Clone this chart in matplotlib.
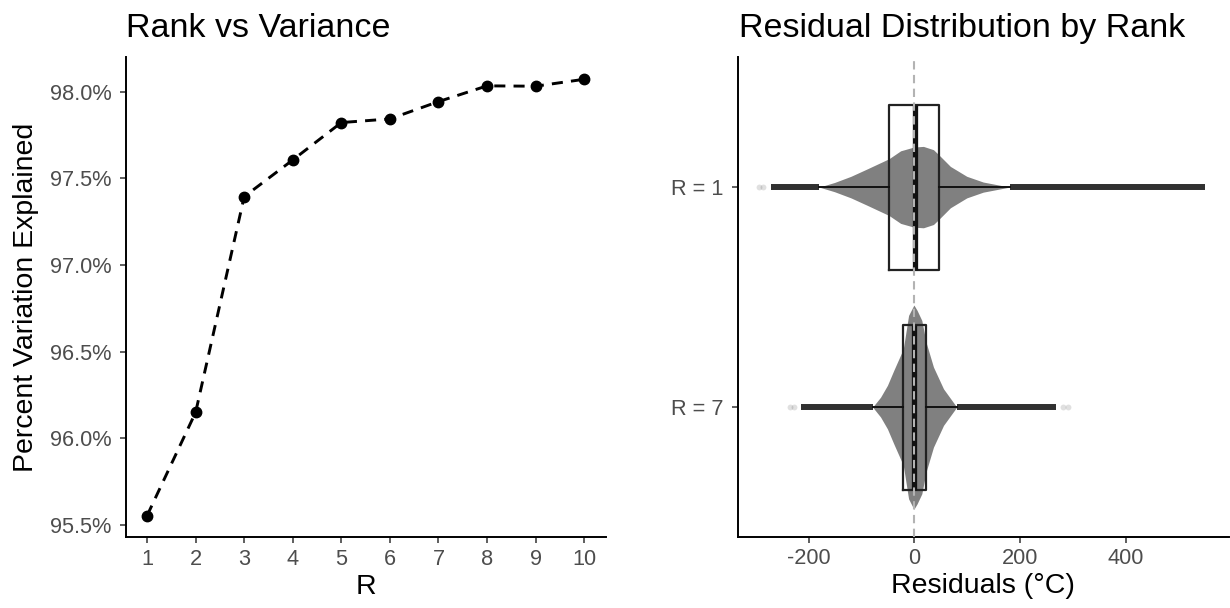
import matplotlib
matplotlib.use('Agg')
import matplotlib.pyplot as plt
from matplotlib.ticker import FuncFormatter

plt.rcParams['font.family'] = ['Liberation Sans', 'DejaVu Sans']
plt.rcParams['axes.unicode_minus'] = False

# --- left panel: rank vs variance explained
ranks = [1, 2, 3, 4, 5, 6, 7, 8, 9, 10]
pct_explained = [95.552, 96.149, 97.395, 97.607, 97.823, 97.844, 97.944, 98.035, 98.033, 98.073]

# --- right panel: residual distribution by rank
groups = ['R = 7', 'R = 1']
group_pos = [1, 2]

# box stats (q1, median, q3, whisker low, whisker high)
q1 = [-21, -48]
med = [0, 2]
q3 = [22, 47]
whis_lo = [-79, -180]
whis_hi = [80, 180]

# dense outlier band and faint extreme points
out_lo = [-214, -272]
out_hi = [268, 550]
faint_pts = [[-236, -228, 280, 290], [-294, -286]]

# violin profiles (x value, half width in category units)
viol7_x = [-79, -64, -51, -39, -21, -11, -1, 5, 14, 22, 36, 55, 80]
viol7_hw = [0, 0.045, 0.099, 0.167, 0.265, 0.417, 0.464, 0.44, 0.394, 0.295, 0.182, 0.083, 0]
viol1_x = [-180, -151, -120, -89, -48, -26, -1, 17, 36, 46, 68, 99, 130, 180]
viol1_hw = [0, 0.021, 0.049, 0.083, 0.129, 0.165, 0.182, 0.185, 0.17, 0.147, 0.094, 0.049, 0.023, 0]

tick_col = '#4d4d4d'

fig = plt.figure(figsize=(12.3, 6.08), dpi=100)
ax1 = fig.add_axes([125.7/1230, 1 - 537.3/608, 480.3/1230, 480/608])
ax2 = fig.add_axes([737.7/1230, 1 - 536.9/608, 491/1230, 479.6/608])

for ax in (ax1, ax2):
  for s in ('top', 'right'):
    ax.spines[s].set_visible(False)
  for s in ('left', 'bottom'):
    ax.spines[s].set_linewidth(1.4)
  ax.tick_params(length=4.6, width=1.1, color='#333333', labelsize=15.7, labelcolor=tick_col)
  ax.tick_params(axis='x', pad=3.5)
  ax.tick_params(axis='y', pad=5.5)

# left chart
ax1.plot(ranks, pct_explained, color='black', linestyle=(0, (3.8, 2.8)), linewidth=2.1,
         marker='o', markersize=7.5)
ax1.set_xlim(0.56, 10.45)
ax1.set_ylim(95.427, 98.2)
ax1.set_xticks(ranks)
ax1.set_yticks([95.5, 96.0, 96.5, 97.0, 97.5, 98.0])
ax1.yaxis.set_major_formatter(FuncFormatter(lambda v, p: f'{v:.1f}%'))
ax1.set_xlabel('R', fontsize=20.5, labelpad=3)
ax1.set_ylabel('Percent Variation Explained', fontsize=20.5, labelpad=8)

# right chart: violins
for pos, xs, hw in ((1, viol7_x, viol7_hw), (2, viol1_x, viol1_hw)):
  lower = [pos - h for h in hw]
  upper = [pos + h for h in hw]
  ax2.fill_between(xs, lower, upper, color='#808080', linewidth=0, zorder=1)

# outliers drawn as dense band of points
for i, pos in enumerate(group_pos):
  ax2.hlines(pos, out_lo[i], whis_lo[i], color='#1a1a1a', linewidth=4.3, alpha=0.9, zorder=2)
  ax2.hlines(pos, whis_hi[i], out_hi[i], color='#1a1a1a', linewidth=4.3, alpha=0.9, zorder=2)
  ax2.scatter(faint_pts[i], [pos] * len(faint_pts[i]), s=18, color='black', alpha=0.12,
              linewidths=0, zorder=2)

stats = []
for i in range(len(groups)):
  stats.append(dict(q1=q1[i], med=med[i], q3=q3[i], whislo=whis_lo[i], whishi=whis_hi[i],
                    fliers=[]))
ax2.bxp(stats, positions=group_pos, widths=0.75, orientation='horizontal',
        showfliers=False, showcaps=False,
        boxprops=dict(color='#222222', linewidth=1.6),
        whiskerprops=dict(color='#111111', linewidth=1.4),
        medianprops=dict(color='#111111', linewidth=3.8), manage_ticks=False, zorder=3)

ax2.axvline(0, color='#b3b3b3', linestyle=(0, (4, 2.6)), linewidth=1.5, zorder=4)

ax2.set_xlim(-334, 594)
ax2.set_ylim(0.41, 2.59)
ax2.set_xticks([-200, 0, 200, 400])
ax2.set_yticks(group_pos)
ax2.set_yticklabels(groups)
ax2.set_xlabel('Residuals (°C)', fontsize=20.5, labelpad=3)

fig.text(126/1230, 1 - 37/608, 'Rank vs Variance', fontsize=24.5, va='baseline')
fig.text(739/1230, 1 - 37/608, 'Residual Distribution by Rank', fontsize=24.5, va='baseline')

fig.savefig('out.png', dpi=100)
